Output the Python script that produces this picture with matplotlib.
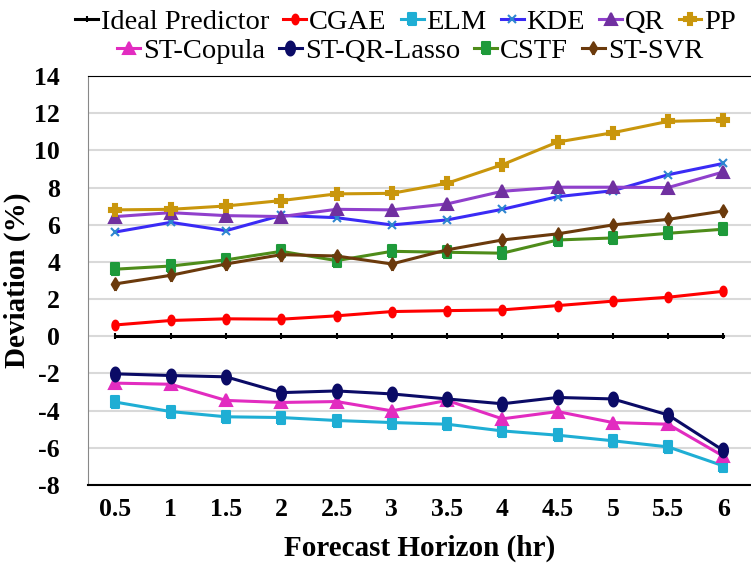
import numpy as np
import matplotlib
matplotlib.use('Agg')
import matplotlib.pyplot as plt

plt.rcParams['font.family'] = ['Liberation Serif', 'DejaVu Serif']
plt.rcParams['axes.unicode_minus'] = False

# -----------------------------------------------------------------------------

horizon = [0.5, 1, 1.5, 2, 2.5, 3, 3.5, 4, 4.5, 5, 5.5, 6]
tick_labels = ['0.5', '1', '1.5', '2', '2.5', '3', '3.5', '4', '4.5', '5', '5.5', '6']

ideal = [0, 0, 0, 0, 0, 0, 0, 0, 0, 0, 0, 0]
cgae = [0.61, 0.85, 0.94, 0.92, 1.10, 1.33, 1.38, 1.42, 1.65, 1.89, 2.10, 2.42]
elm = [-3.54, -4.05, -4.33, -4.37, -4.53, -4.64, -4.73, -5.09, -5.32, -5.62, -5.95, -6.97]
kde = [5.61, 6.13, 5.68, 6.50, 6.38, 5.99, 6.26, 6.83, 7.51, 7.83, 8.69, 9.30]
qr = [6.44, 6.65, 6.49, 6.44, 6.83, 6.80, 7.12, 7.80, 8.02, 8.02, 8.00, 8.84]
pp = [6.80, 6.83, 7.01, 7.30, 7.66, 7.69, 8.23, 9.23, 10.45, 10.95, 11.56, 11.63]
st_copula = [-2.52, -2.58, -3.45, -3.56, -3.51, -4.01, -3.45, -4.44, -4.05, -4.64, -4.73, -6.45]
st_qr_lasso = [-2.02, -2.11, -2.18, -3.03, -2.94, -3.10, -3.37, -3.63, -3.29, -3.37, -4.23, -6.14]
cstf = [3.61, 3.78, 4.11, 4.57, 4.07, 4.57, 4.52, 4.47, 5.18, 5.29, 5.54, 5.76]
st_svr = [2.82, 3.28, 3.89, 4.39, 4.32, 3.89, 4.65, 5.18, 5.51, 5.99, 6.29, 6.74]

# -----------------------------------------------------------------------------

# markers in the original look squeezed sideways
t = np.linspace(0, 2 * np.pi, 40)
ellipse = np.column_stack([0.65 * np.cos(t), np.sin(t)])
tall_sq = np.array([[-0.7, -1], [0.7, -1], [0.7, 1], [-0.7, 1], [-0.7, -1]])
tall_dm = np.array([[0, -1], [0.6, 0], [0, 1], [-0.6, 0], [0, -1]])

# name, values, line colour, marker, marker colour, marker size
series = [
    ('Ideal Predictor', ideal, 'black', '|', 'black', 5),
    ('CGAE', cgae, '#FF0000', ellipse, '#FF0000', 7),
    ('ELM', elm, '#1FAED4', tall_sq, '#1FAED4', 8),
    ('KDE', kde, '#3A2BF5', 'x', '#2E86D0', 6),
    ('QR', qr, '#9040CC', '^', '#7030A0', 8),
    ('PP', pp, '#C9960C', 'P', '#C9960C', 9),
    ('ST-Copula', st_copula, '#E22CC0', '^', '#E22CC0', 9),
    ('ST-QR-Lasso', st_qr_lasso, '#0B0B66', ellipse, '#0B0B66', 10),
    ('CSTF', cstf, '#4E8C1A', tall_sq, '#1E9A3A', 8),
    ('ST-SVR', st_svr, '#6B3A0C', tall_dm, '#6B3A0C', 9),
]

fig = plt.figure(figsize=(7.51, 5.69), dpi=100)
ax = fig.add_axes([0.117, 0.1476, 0.883, 0.7188])

handles = []
for name, vals, lc, mk, mc, ms in series:
    h, = ax.plot(horizon, vals, color=lc, lw=2.2, marker=mk, markersize=ms,
                 markerfacecolor=mc, markeredgecolor=mc, markeredgewidth=1.5,
                 label=name, zorder=3)
    handles.append(h)

ax.set_xlim(0.25, 6.25)
ax.set_ylim(-8, 14)
ax.set_xticks(horizon)
ax.set_xticklabels(tick_labels)
ax.set_yticks(np.arange(-8, 15, 2))

ax.grid(axis='y', color='#D9D9D9', lw=1.5, zorder=0)
ax.set_axisbelow(True)

ax.tick_params(length=0, labelsize=18.5)
ax.tick_params(axis='y', pad=20)
ax.tick_params(axis='x', pad=9)
for lbl in ax.get_xticklabels() + ax.get_yticklabels():
    lbl.set_fontweight('bold')

ax.spines['right'].set_visible(False)
ax.spines['left'].set_color('#888888')
ax.spines['top'].set_color('black')
ax.spines['bottom'].set_color('black')
ax.spines['bottom'].set_linewidth(1.5)

ax.set_xlabel('Forecast Horizon (hr)', fontsize=21, fontweight='bold', labelpad=10)
ax.set_ylabel('Deviation (%)', fontsize=21, fontweight='bold', labelpad=2)

leg_kw = dict(loc='center', frameon=False, fontsize=20.5, handlelength=0.8,
              handletextpad=0.1, columnspacing=0.5, borderaxespad=0, borderpad=0)
fig.legend(handles=handles[:6], bbox_to_anchor=(0.54, 0.962), ncol=6, **leg_kw)
fig.legend(handles=handles[6:], bbox_to_anchor=(0.546, 0.910), ncol=4, **leg_kw)

fig.savefig('out.png', dpi=100)
